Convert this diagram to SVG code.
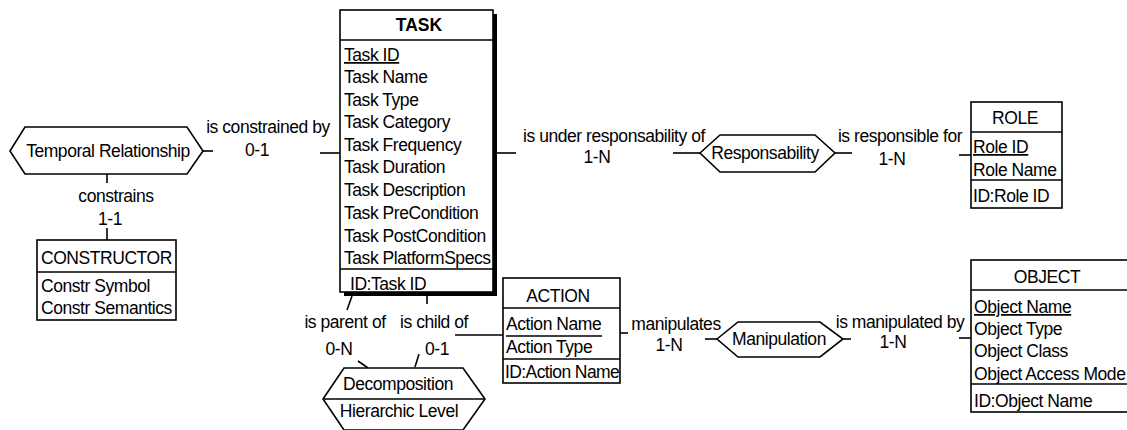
<svg xmlns="http://www.w3.org/2000/svg" width="1127" height="430" viewBox="0 0 1127 430">
<style>
text{font-family:"Liberation Sans",Arial,sans-serif;font-size:17.5px;letter-spacing:-0.45px;fill:#000}
.c{text-anchor:middle}
.b{font-weight:bold;letter-spacing:0}
.box{fill:#fff;stroke:#000;stroke-width:1.6}
.ln{stroke:#000;stroke-width:1.6;fill:none}
.u{text-decoration:underline}
</style>
<rect width="1127" height="430" fill="#fff"/>
<g id="connectors" class="ln">
<line x1="203" y1="151" x2="213" y2="151"/>
<line x1="320" y1="153" x2="340" y2="153"/>
<line x1="107" y1="174" x2="107" y2="183"/>
<line x1="107" y1="228" x2="107" y2="240"/>
<line x1="497" y1="153" x2="516" y2="153"/>
<line x1="673" y1="153" x2="700" y2="153"/>
<line x1="835" y1="153" x2="852" y2="153"/>
<line x1="959" y1="155" x2="971" y2="155"/>
<line x1="352" y1="296" x2="347" y2="310"/>
<line x1="427" y1="296" x2="427" y2="304"/>
<line x1="358" y1="361" x2="368" y2="368"/>
<line x1="419" y1="354" x2="415" y2="367"/>
<line x1="455" y1="335" x2="503" y2="335"/>
<line x1="620" y1="333" x2="628" y2="333"/>
<line x1="705" y1="339" x2="717" y2="339"/>
<line x1="843" y1="339" x2="851" y2="339"/>
<line x1="959" y1="338" x2="971" y2="338"/>
</g>
<g id="labels">
<text class="c" x="268" y="133">is constrained by</text>
<text class="c" x="257" y="156">0-1</text>
<text class="c" x="116" y="202">constrains</text>
<text class="c" x="110" y="225">1-1</text>
<text class="c" x="614" y="142">is under responsability of</text>
<text class="c" x="597" y="163">1-N</text>
<text class="c" x="900" y="142">is responsible for</text>
<text class="c" x="892" y="165">1-N</text>
<text class="c" x="345" y="328">is parent of</text>
<text class="c" x="434" y="328">is child of</text>
<text class="c" x="339" y="355">0-N</text>
<text class="c" x="437" y="355">0-1</text>
<text class="c" x="676" y="330">manipulates</text>
<text class="c" x="669" y="351">1-N</text>
<text class="c" x="900" y="328">is manipulated by</text>
<text class="c" x="893" y="348">1-N</text>
</g>
<g id="temporal">
<polygon class="box" points="10,151 25,127 187,127 203,151 187,174 25,174"/>
<text class="c" x="108" y="157">Temporal Relationship</text>
</g>
<g id="constructor">
<rect class="box" x="37" y="240" width="139" height="80"/>
<line class="ln" x1="37" y1="272" x2="176" y2="272"/>
<text x="41" y="264">CONSTRUCTOR</text>
<text x="41" y="292">Constr Symbol</text>
<text x="41" y="314">Constr Semantics</text>
</g>
<g id="task">
<rect x="344" y="14" width="153" height="282" fill="#000"/>
<rect class="box" x="340" y="10" width="153" height="282"/>
<line class="ln" x1="340" y1="40" x2="493" y2="40"/>
<line class="ln" x1="340" y1="269" x2="493" y2="269"/>
<text class="c b" x="419" y="31">TASK</text>
<text x="344" y="61" class="u">Task ID</text>
<text x="344" y="83">Task Name</text>
<text x="344" y="106">Task Type</text>
<text x="344" y="128">Task Category</text>
<text x="344" y="151">Task Frequency</text>
<text x="344" y="173">Task Duration</text>
<text x="344" y="196">Task Description</text>
<text x="344" y="219">Task PreCondition</text>
<text x="344" y="242">Task PostCondition</text>
<text x="344" y="264">Task PlatformSpecs</text>
<text x="350" y="290">ID:Task ID</text>
</g>
<g id="responsability">
<polygon class="box" points="700,153 720,135 815,135 835,153 815,172 720,172"/>
<text class="c" x="765" y="159">Responsability</text>
</g>
<g id="role">
<rect class="box" x="971" y="102" width="91" height="106"/>
<line class="ln" x1="971" y1="132" x2="1062" y2="132"/>
<line class="ln" x1="971" y1="180" x2="1062" y2="180"/>
<text class="c" x="1015" y="124">ROLE</text>
<text x="973" y="153" class="u">Role ID</text>
<text x="973" y="176">Role Name</text>
<text x="973" y="202">ID:Role ID</text>
</g>
<g id="decomposition">
<polygon class="box" points="323,399 344,368 463,368 485,399 463,430 344,430"/>
<line class="ln" x1="323" y1="399" x2="485" y2="399"/>
<text class="c" x="398" y="390">Decomposition</text>
<text class="c" x="399" y="417">Hierarchic Level</text>
</g>
<g id="action">
<rect class="box" x="503" y="278" width="117" height="105"/>
<line class="ln" x1="503" y1="308" x2="620" y2="308"/>
<line class="ln" x1="503" y1="359" x2="620" y2="359"/>
<text class="c" x="558" y="302">ACTION</text>
<text x="506" y="330">Action Name</text>
<line class="ln" x1="506" y1="336" x2="602" y2="336"/>
<text x="506" y="353">Action Type</text>
<text x="505" y="378" style="letter-spacing:-0.6px">ID:Action Name</text>
</g>
<g id="manipulation">
<polygon class="box" points="717,339 738,322 820,322 843,339 820,357 738,357"/>
<text class="c" x="779" y="345">Manipulation</text>
</g>
<g id="object">
<rect class="box" x="971" y="260" width="170" height="152"/>
<line class="ln" x1="971" y1="290" x2="1141" y2="290"/>
<line class="ln" x1="971" y1="384" x2="1141" y2="384"/>
<text class="c" x="1047" y="283">OBJECT</text>
<text x="974" y="313" class="u">Object Name</text>
<text x="974" y="335">Object Type</text>
<text x="974" y="357">Object Class</text>
<text x="974" y="380">Object Access Mode</text>
<text x="974" y="407">ID:Object Name</text>
</g>
</svg>
